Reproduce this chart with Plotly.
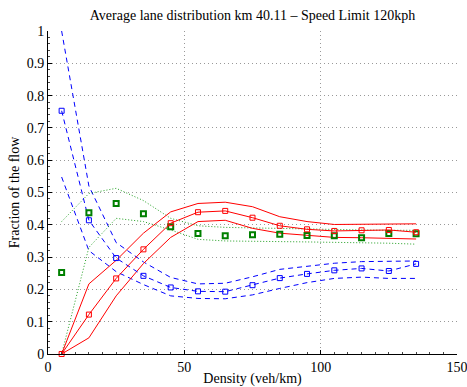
import plotly.graph_objects as go

density = [5, 15, 25, 35, 45, 55, 65, 75, 85, 95, 105, 115, 125, 135]

# Lane 1 (blue)
blue_mean  = [0.753, 0.414, 0.297, 0.242, 0.206, 0.194, 0.193, 0.213, 0.235, 0.248, 0.259, 0.265, 0.257, 0.279]
blue_upper = [1.0, 0.52, 0.345, 0.285, 0.237, 0.217, 0.219, 0.239, 0.262, 0.272, 0.281, 0.286, 0.286, 0.288]
blue_lower = [0.548, 0.32, 0.255, 0.215, 0.18, 0.172, 0.171, 0.183, 0.203, 0.221, 0.234, 0.238, 0.234, 0.234]

# Lane 2 (green)
green_mean  = [0.252, 0.437, 0.466, 0.434, 0.394, 0.373, 0.366, 0.369, 0.371, 0.367, 0.366, 0.360, 0.373, 0.372]
green_upper = [0.41, 0.497, 0.513, 0.475, 0.42, 0.397, 0.392, 0.39, 0.388, 0.386, 0.385, 0.384, 0.383, 0.383]
green_lower = [0.0, 0.33, 0.42, 0.41, 0.384, 0.355, 0.350, 0.350, 0.348, 0.347, 0.346, 0.345, 0.343, 0.340]

# Lane 3 (red)
red_mean  = [0.0, 0.122, 0.234, 0.324, 0.405, 0.439, 0.443, 0.422, 0.397, 0.386, 0.381, 0.383, 0.384, 0.377]
red_upper = [0.0, 0.217, 0.29, 0.374, 0.44, 0.466, 0.47, 0.456, 0.425, 0.41, 0.401, 0.402, 0.403, 0.403]
red_lower = [0.0, 0.05, 0.18, 0.28, 0.361, 0.41, 0.414, 0.389, 0.374, 0.368, 0.361, 0.36, 0.359, 0.356]

x_ticks = [0, 50, 100, 150]
y_ticks = [0, 0.1, 0.2, 0.3, 0.4, 0.5, 0.6, 0.7, 0.8, 0.9, 1]
y_tick_labels = ["0", "0.1", "0.2", "0.3", "0.4", "0.5", "0.6", "0.7", "0.8", "0.9", "1"]

fig = go.Figure()

BLUE_DASH = "5px,4px"
GREEN_DOT = "1px,2px"

def band(y, color, dash, width=1):
    fig.add_trace(go.Scatter(x=density, y=y, mode="lines",
                             line=dict(color=color, dash=dash, width=width),
                             showlegend=False, hoverinfo="skip"))

# bands
band(blue_upper, "#0000FF", BLUE_DASH)
band(blue_lower, "#0000FF", BLUE_DASH)
band(green_upper, "#22A022", GREEN_DOT)
band(green_lower, "#22A022", GREEN_DOT)
band(red_upper, "#FF0000", "solid")
band(red_lower, "#FF0000", "solid")

# means
fig.add_trace(go.Scatter(x=density, y=blue_mean, mode="lines+markers",
                         line=dict(color="#0000FF", dash=BLUE_DASH, width=1),
                         marker=dict(symbol="square-open", size=5, color="#0000FF", line=dict(width=1)),
                         showlegend=False, cliponaxis=False))
fig.add_trace(go.Scatter(x=density, y=green_mean, mode="markers",
                         marker=dict(symbol="square-open", size=5, color="#008000", line=dict(width=2)),
                         showlegend=False, cliponaxis=False))
fig.add_trace(go.Scatter(x=density, y=red_mean, mode="lines+markers",
                         line=dict(color="#FF0000", width=1),
                         marker=dict(symbol="square-open", size=5, color="#FF0000", line=dict(width=1)),
                         showlegend=False, cliponaxis=False))

font_family = "'Liberation Serif', 'Times New Roman', serif"
GRID = "#999999"
GRID_DASH = "1px,3px"

fig.update_layout(
    width=467, height=387,
    margin=dict(l=48, r=10, t=31, b=33, autoexpand=False),
    paper_bgcolor="white", plot_bgcolor="white",
    font=dict(family=font_family, size=14, color="black"),
    title=dict(text="Average lane distribution km 40.11 \u2013 Speed Limit 120kph",
               x=(48 + 409 / 2) / 467, xanchor="center", y=1 - 15 / 387, yanchor="middle",
               font=dict(family=font_family, size=14, color="black")),
    xaxis=dict(range=[0, 150], tickvals=x_ticks, ticktext=[str(v) for v in x_ticks],
               showline=True, linecolor="black", linewidth=1, mirror=False,
               ticks="inside", ticklen=4, tickcolor="black",
               minor=dict(ticks="inside", ticklen=2, dtick=5, tickcolor="#444444", showgrid=False),
               showgrid=True, gridcolor=GRID, griddash=GRID_DASH, gridwidth=1,
               zeroline=False, ticklabeloverflow="allow", automargin=False,
               title=dict(text="Density (veh/km)", standoff=0, font=dict(size=14)),
               tickfont=dict(size=14)),
    yaxis=dict(range=[0, 1], tickvals=y_ticks, ticktext=y_tick_labels,
               showline=True, linecolor="black", linewidth=1, mirror=False,
               ticks="inside", ticklen=4, tickcolor="black",
               minor=dict(ticks="inside", ticklen=2, dtick=0.02, tickcolor="#444444", showgrid=False),
               showgrid=True, gridcolor=GRID, griddash=GRID_DASH, gridwidth=1,
               zeroline=False, ticklabeloverflow="allow", automargin=False,
               title=dict(text="Fraction of the flow", standoff=3, font=dict(size=14)),
               tickfont=dict(size=14)),
)

fig.write_html("out.html")
